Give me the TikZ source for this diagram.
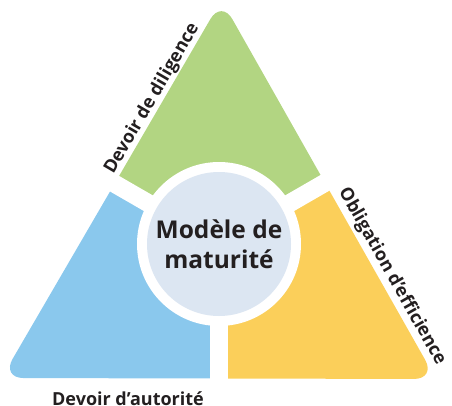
\documentclass[tikz,border=0pt]{standalone}
\usepackage{fontspec}
\setmainfont{Open Sans}
\usetikzlibrary{calc}
\definecolor{diligence}{RGB}{178,213,130}
\definecolor{autorite}{RGB}{138,200,237}
\definecolor{efficience}{RGB}{251,207,90}
\definecolor{noyau}{RGB}{220,230,242}
\definecolor{encre}{RGB}{35,31,32}
\tikzset{
	label text/.style={font=\bfseries\fontsize{18}{20}\selectfont, text=encre, inner sep=1pt},
	gap line/.style={white, line width=18},
}

\begin{document}
\begin{tikzpicture}[x=1pt, y=1pt]
			%%%%% START %%%%%
			\useasboundingbox (0, 0) rectangle (452, 405);
			
			\coordinate (centre) at (219, 161);
			\coordinate (top) at (221.5, 405);
			\coordinate (left) at (1.5, 27);
			\coordinate (right) at (436, 26);
			
			\begin{scope}
				\clip[rounded corners=22] (top) -- (left) -- (right) -- cycle;
				\fill[diligence] (centre) -- ($(centre)+(150:500)$) -- ($(centre)+(90:500)$) -- ($(centre)+(30:500)$) -- cycle;
				\fill[autorite] (centre) -- ($(centre)+(150:500)$) -- ($(centre)+(210:500)$) -- ($(centre)+(270:500)$) -- cycle;
				\fill[efficience] (centre) -- ($(centre)+(270:500)$) -- ($(centre)+(330:500)$) -- ($(centre)+(30:500)$) -- cycle;
			\end{scope}
			
			\draw[gap line] (centre) -- ($(centre)+(150:260)$);
			\draw[gap line] (centre) -- ($(centre)+(30:260)$);
			\draw[gap line] (centre) -- ($(centre)+(270:200)$);
			
			\fill[white] (centre) circle (82);
			\node[circle, fill=noyau, minimum size=144, inner sep=0, text=encre, align=center,
				font=\bfseries\fontsize{24.5}{30}\selectfont] (core) at (centre) {Modèle de\\maturité};
			
			\path (left) -- (top) node[pos=0.725, sloped, above, label text] (diligence) {Devoir de diligence};
			\path (top) -- (right) node[pos=0.745, sloped, above=2pt, label text] (efficience) {Obligation d’efficience};
			\node[label text, anchor=base] (autorite) at (128, 0) {Devoir d’autorité};
			
			%%%%% END %%%%%
		\end{tikzpicture}
\end{document}
